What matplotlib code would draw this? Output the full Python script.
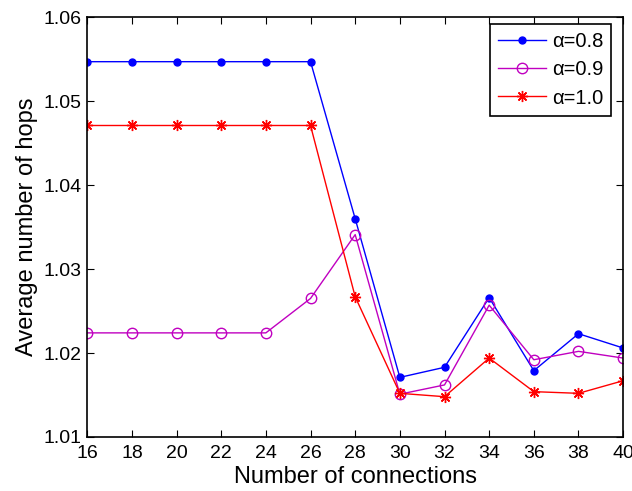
import matplotlib.pyplot as plt

plt.rcParams['font.family'] = ['Liberation Sans', 'DejaVu Sans']

# number of connections
conns = [16, 18, 20, 22, 24, 26, 28, 30, 32, 34, 36, 38, 40]

# average hops per alpha
hops_08 = [1.0547, 1.0547, 1.0547, 1.0547, 1.0547, 1.0547, 1.0360,
           1.0171, 1.0183, 1.0266, 1.0179, 1.0223, 1.0206]
hops_09 = [1.0224, 1.0224, 1.0224, 1.0224, 1.0224, 1.0265, 1.0341,
           1.0151, 1.0162, 1.0257, 1.0192, 1.0202, 1.0194]
hops_10 = [1.0471, 1.0471, 1.0471, 1.0471, 1.0471, 1.0471, 1.0267,
           1.0152, 1.0148, 1.0194, 1.0154, 1.0152, 1.0167]

xticks = list(range(16, 41, 2))
yticks = [1.01, 1.02, 1.03, 1.04, 1.05, 1.06]

fig = plt.figure(figsize=(6.32, 4.91), dpi=100)
ax = fig.add_axes([0.138, 0.110, 0.848, 0.855])

ax.plot(conns, hops_08, color='blue', marker='o', markersize=5, lw=1, label='α=0.8')
ax.plot(conns, hops_09, color='#c000c0', marker='o', markersize=7.5, mfc='none',
        lw=1, label='α=0.9')
ax.plot(conns, hops_10, color='red', marker=(8, 2, 0), markersize=8, lw=1,
        label='α=1.0')

ax.set_xlim(16, 40)
ax.set_ylim(1.01, 1.06)
ax.set_xticks(xticks)
ax.set_yticks(yticks)
ax.set_yticklabels(['%.2f' % v for v in yticks])
ax.tick_params(direction='in', top=True, right=True, length=5, labelsize=14)
ax.tick_params(axis='x', pad=6)
ax.tick_params(axis='y', pad=4)
for s in ax.spines.values():
    s.set_linewidth(1.2)

ax.set_xlabel('Number of connections', fontsize=17, labelpad=3)
ax.set_ylabel('Average number of hops', fontsize=17, labelpad=4)

leg = ax.legend(loc='upper right', bbox_to_anchor=(0.978, 0.983), fontsize=14.5,
                handlelength=2.4, handletextpad=0.3, labelspacing=0.45,
                fancybox=False, framealpha=1, borderaxespad=0, borderpad=0.4)
leg.get_frame().set_edgecolor('black')
leg.get_frame().set_linewidth(1.2)

fig.savefig('out.png')
